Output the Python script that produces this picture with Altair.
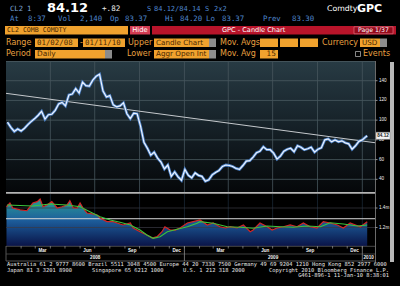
import altair as alt
import pandas as pd

# ---------------- data ----------------
# weekly closes of CL2, Fridays of 2008, Fridays of 2009, then early 2010
price_2008 = [97.9, 92.7, 88.5, 91.0, 89.0, 91.8, 95.5, 98.8, 101.6,
              105.0, 109.0, 101.0, 105.5, 106.0, 110.0, 116.5, 118.0,
              114.5, 125.5, 126.5, 132.0, 127.5, 138.5, 135.0, 134.5, 140.5,
              144.5, 146.5, 129.5, 123.5, 125.0, 115.5, 113.5, 114.5, 117.5,
              106.5, 101.5, 107.0, 106.5, 94.0, 77.5, 71.5, 64.5, 67.5,
              61.5, 57.5, 50.5, 54.5, 43.0, 47.5, 42.5, 39.0]
price_2009 = [50.0, 44.0, 41.5, 46.5, 44.0, 43.0, 38.0, 39.5, 44.5,
              47.0, 49.0, 53.0, 54.5, 54.0, 53.0, 51.0, 50.0,
              54.0, 58.5, 59.0, 62.5, 67.0, 68.5, 73.0, 70.0, 70.0,
              66.5, 60.5, 63.5, 68.5, 70.5, 71.5, 68.0, 74.0, 72.5,
              70.0, 71.0, 72.5, 67.5, 70.5, 72.0, 80.0, 81.0, 78.0,
              80.0, 78.0, 79.0, 77.0, 76.0, 70.5, 74.0, 78.5]
price_2010_dates = ["2010-01-01", "2010-01-08", "2010-01-11"]
price_2010 = [80.0, 83.0, 84.12]

trend_dates = ["2008-01-01", "2010-01-27"]
trend_vals = [127.2, 77.1]

oi_dates = ["2008-01-02", "2008-01-09", "2008-01-15", "2008-01-30", "2008-02-13", "2008-02-25",
            "2008-03-05", "2008-03-11", "2008-03-17", "2008-03-25", "2008-04-04", "2008-04-15",
            "2008-04-25", "2008-05-05", "2008-05-11", "2008-05-18", "2008-05-26", "2008-06-01",
            "2008-06-07", "2008-06-15", "2008-06-26", "2008-07-06", "2008-07-12", "2008-07-26",
            "2008-08-08", "2008-08-16", "2008-08-28", "2008-09-12", "2008-09-18", "2008-10-02",
            "2008-10-16", "2008-10-27", "2008-11-06", "2008-11-16", "2008-11-22", "2008-12-03",
            "2008-12-13", "2008-12-23", "2009-01-07", "2009-01-19", "2009-02-02", "2009-02-17",
            "2009-03-01", "2009-03-15", "2009-03-26", "2009-04-05", "2009-04-19", "2009-05-02",
            "2009-05-16", "2009-05-22", "2009-06-05", "2009-06-20", "2009-06-30", "2009-07-10",
            "2009-07-23", "2009-08-06", "2009-08-20", "2009-09-02", "2009-09-16", "2009-09-30",
            "2009-10-13", "2009-10-27", "2009-11-11", "2009-11-23", "2009-12-07", "2009-12-18",
            "2009-12-28", "2010-01-11"]
oi_vals = [1.413, 1.451, 1.400, 1.380, 1.372, 1.451,
           1.465, 1.492, 1.413, 1.431, 1.465, 1.400,
           1.413, 1.431, 1.475, 1.400, 1.400, 1.451,
           1.400, 1.349, 1.339, 1.328, 1.297, 1.260,
           1.260, 1.246, 1.226, 1.246, 1.195, 1.157,
           1.123, 1.092, 1.106, 1.157, 1.208, 1.174,
           1.174, 1.195, 1.246, 1.260, 1.277, 1.226,
           1.246, 1.208, 1.195, 1.208, 1.195, 1.226,
           1.157, 1.174, 1.246, 1.208, 1.174, 1.195,
           1.208, 1.226, 1.208, 1.246, 1.208, 1.195,
           1.260, 1.246, 1.226, 1.195, 1.246, 1.226,
           1.208, 1.260]

ma_dates = ["2008-01-03", "2008-02-25", "2008-03-31", "2008-05-05", "2008-06-01", "2008-06-21",
            "2008-07-12", "2008-08-02", "2008-08-22", "2008-09-12", "2008-10-02", "2008-10-16",
            "2008-10-29", "2008-11-12", "2008-11-27", "2008-12-17", "2009-01-07", "2009-01-27",
            "2009-02-02", "2009-03-01", "2009-03-30", "2009-04-25", "2009-05-22", "2009-06-20",
            "2009-07-17", "2009-08-12", "2009-09-10", "2009-10-07", "2009-10-27", "2009-11-23",
            "2009-12-22", "2010-01-11"]
ma_vals = [1.431, 1.421, 1.441, 1.431, 1.413, 1.362,
           1.311, 1.277, 1.253, 1.226, 1.174, 1.123,
           1.089, 1.106, 1.157, 1.182, 1.208, 1.243,
           1.260, 1.243, 1.208, 1.202, 1.192, 1.215,
           1.208, 1.202, 1.215, 1.208, 1.249, 1.236,
           1.215, 1.226]

price_ticks = [40, 60, 80, 100, 120, 140]
oi_ticks = [1.2, 1.4]
oi_tick_labels = ["1.2m", "1.4m"]
oi_ref_level = 1.29
last_price_label = "84.12"

quarter_dates = ["2008-04-01", "2008-07-01", "2008-10-01", "2009-01-01",
                 "2009-04-01", "2009-07-01", "2009-10-01", "2010-01-01"]
month_label_dates = ["2008-03-16", "2008-06-16", "2008-09-16", "2008-12-16",
                     "2009-03-16", "2009-06-16", "2009-09-16", "2009-12-16"]
month_labels = ["Mar", "Jun", "Sep", "Dec", "Mar", "Jun", "Sep", "Dec"]
year_label_dates = ["2008-07-02", "2009-07-02", "2010-01-14"]
year_labels = ["2008", "2009", "2010"]

# ---------------- tables ----------------
d08 = pd.date_range("2008-01-04", periods=len(price_2008), freq="7D").strftime("%Y-%m-%d").tolist()
d09 = pd.date_range("2009-01-02", periods=len(price_2009), freq="7D").strftime("%Y-%m-%d").tolist()
price_df = pd.DataFrame({"date": d08 + d09 + price_2010_dates,
                         "price": price_2008 + price_2009 + price_2010})
trend_df = pd.DataFrame({"date": trend_dates, "price": trend_vals})
oi_df = pd.DataFrame({"date": oi_dates, "oi": oi_vals})
ma_df = pd.DataFrame({"date": ma_dates, "ma": ma_vals})
month_starts = pd.date_range("2008-02-01", "2010-01-01", freq="MS").strftime("%Y-%m-%d").tolist()

MONO = "DejaVu Sans Mono"
SANS = "Liberation Sans"
DSANS = "DejaVu Sans"

X = alt.Scale(type="utc", domain=[alt.DateTime(year=2008, month=1, date=1, utc=True),
                                  alt.DateTime(year=2010, month=1, date=27, utc=True)],
              range=[6, 375], nice=False)
PY = alt.Scale(domain=[26.1, 160.0], range=[193, 61], nice=False, zero=False)
OY = alt.Scale(domain=[1.0103, 1.5436], range=[246, 194], nice=False, zero=False)

one = pd.DataFrame({"k": [0]})


def box(x1, y1, x2, y2, fill, stroke=None, sw=0.8):
    kw = dict(fill=fill)
    if stroke:
        kw.update(stroke=stroke, strokeWidth=sw)
    return alt.Chart(one).mark_rect(**kw).encode(
        x=alt.value(x1), x2=alt.value(x2), y=alt.value(y1), y2=alt.value(y2))


def hline(y, x1, x2, color, w=1.0):
    return alt.Chart(one).mark_rule(color=color, strokeWidth=w).encode(
        x=alt.value(x1), x2=alt.value(x2), y=alt.value(y))


def vline(x, y1, y2, color, w=1.0):
    return alt.Chart(one).mark_rule(color=color, strokeWidth=w).encode(
        x=alt.value(x), y=alt.value(y1), y2=alt.value(y2))


def txt(s, x, y, size, color, font=MONO, weight="normal", align="left"):
    return alt.Chart(one).mark_text(text=s, font=font, fontSize=size, fontWeight=weight,
                                    color=color, align=align, baseline="middle").encode(
        x=alt.value(x), y=alt.value(y))


layers = []

# ---------------- header ----------------
BLUE1 = "#7fa8d8"
BLUE2 = "#4f86cc"
ORANGE = "#f0a22e"
ORTXT = "#e8a040"
FTXT = "#4a2800"
GRAYBTN = "#8c8c8c"

layers += [
    txt("CL2", 10, 8.5, 7.2, BLUE1),
    txt("1", 27, 8.5, 7.2, BLUE1),
    txt("84.12", 47, 8.0, 13, "#ffffff", DSANS, "bold"),
    txt("+.82", 102, 9.0, 7.6, "#e8e8e8"),
    txt("S", 147, 9, 7.0, BLUE2),
    txt("84.12/84.14", 154, 9, 7.0, BLUE2),
    txt("S", 205, 9, 7.0, BLUE2),
    txt("2x2", 214, 9, 7.0, BLUE2),
    txt("Comdty", 327, 8.5, 7.8, "#ffffff", DSANS),
    txt("GPC", 357, 8.5, 11, "#ffffff", DSANS, "bold"),
]
for s, x in [("At", 10), ("8:37", 28), ("Vol", 58), ("2,140", 80), ("Op", 110), ("83.37", 125),
             ("Hi", 165), ("84.20", 180), ("Lo", 206), ("83.37", 222), ("Prev", 263), ("83.30", 292)]:
    layers.append(txt(s, x, 19.2, 7.4, BLUE2))

# row 3 bars
layers += [
    box(5, 26, 128, 34.5, ORANGE),
    txt("CL2 COMB COMDTY", 7, 30.4, 6.6, FTXT),
    box(130, 26, 150, 34.5, "#d23c52"),
    txt("Hide", 140, 30.4, 6.8, "#ffffff", DSANS, align="center"),
    box(152, 26, 396, 34.5, "#b8142a"),
    txt("GPC - Candle Chart", 222, 30.4, 6.6, "#ffffff", DSANS),
    box(354, 26.8, 393, 33.8, "#950a1c", "#e07080", 0.7),
    txt("Page 1/37", 373.5, 30.4, 6.2, "#ffffff", DSANS, align="center"),
]

# rows 4 and 5
R4, R5 = 42.7, 54.3
layers += [
    txt("Range", 6, R4, 8, ORTXT, DSANS),
    box(35, 38.5, 78, 47, ORANGE), txt("01/02/08", 37, R4, 7.4, FTXT),
    txt("-", 80, R4, 8, ORTXT, DSANS),
    box(83, 38.5, 125, 47, ORANGE), txt("01/11/10", 85, R4, 7.4, FTXT),
    txt("Upper", 128, R4, 8, ORTXT, DSANS),
    box(154, 38.5, 209, 47, ORANGE), txt("Candle Chart", 156, R4, 7.2, FTXT, DSANS),
    box(209, 38.5, 216, 47, GRAYBTN),
    txt("Mov. Avgs", 220, R4, 8, ORTXT, DSANS),
    box(260, 38.5, 278, 47, ORANGE), box(280, 38.5, 298, 47, ORANGE), box(300, 38.5, 318, 47, ORANGE),
    txt("Currency", 322, R4, 8, ORTXT, DSANS),
    box(360, 38.5, 380, 47, ORANGE), txt("USD", 362, R4, 7.2, FTXT, DSANS),
    box(380, 38.5, 387, 47, GRAYBTN),

    txt("Period", 6, R5, 8, ORTXT, DSANS),
    box(35, 50, 105, 58.5, ORANGE), txt("Daily", 37, R5, 7.4, FTXT, DSANS),
    box(105, 50, 112, 58.5, GRAYBTN),
    txt("Lower", 127, R5, 8, ORTXT, DSANS),
    box(154, 50, 209, 58.5, ORANGE), txt("Aggr Open Int", 156, R5, 7.2, FTXT, DSANS),
    box(209, 50, 216, 58.5, GRAYBTN),
    txt("Mov. Avg", 220, R5, 8, ORTXT, DSANS),
    box(260, 50, 278, 58.5, ORANGE), txt("15", 276, R5, 7.4, FTXT, DSANS, align="right"),
    box(355.5, 51.5, 360.5, 56.5, "#000000", "#c0c0c0", 0.7),
    txt("Events", 363, R5, 8, ORTXT, DSANS),
]

# ---------------- upper panel ----------------
grad_up = alt.Gradient(gradient="linear",
                       stops=[alt.GradientStop(color="#283b44", offset=0),
                              alt.GradientStop(color="#17232a", offset=0.45),
                              alt.GradientStop(color="#050709", offset=1)],
                       x1=0, x2=0, y1=0, y2=1)
layers.append(alt.Chart(one).mark_rect(fill=grad_up).encode(
    x=alt.value(6), x2=alt.value(375), y=alt.value(61), y2=alt.value(193)))
layers.append(hline(61.5, 6, 375, "#43535a", 1))

ticks_df = pd.DataFrame({"v": price_ticks, "lab": [str(t) for t in price_ticks]})
layers.append(alt.Chart(ticks_df).mark_rule(color="#4a5a61", strokeWidth=0.8).encode(
    y=alt.Y("v:Q", scale=PY, axis=None), x=alt.value(6), x2=alt.value(375)))
q_df = pd.DataFrame({"d": quarter_dates})
layers.append(alt.Chart(q_df).mark_rule(color="#46565d", strokeWidth=0.8).encode(
    x=alt.X("d:T", scale=X, axis=None), y=alt.value(62), y2=alt.value(192)))
layers.append(alt.Chart(q_df).mark_rule(color="#1c2c3c", strokeWidth=0.7).encode(
    x=alt.X("d:T", scale=X, axis=None), y=alt.value(194), y2=alt.value(246)))

# trend line
layers.append(alt.Chart(trend_df).mark_line(color="#c4c8cc", strokeWidth=1).encode(
    x=alt.X("date:T", scale=X, axis=None), y=alt.Y("price:Q", scale=PY, axis=None)))

# price series
pbase = alt.Chart(price_df).encode(x=alt.X("date:T", scale=X, axis=None),
                                   y=alt.Y("price:Q", scale=PY, axis=None))
layers.append(pbase.mark_line(color="#4a7fc4", strokeWidth=2.8, strokeJoin="miter"))
layers.append(pbase.mark_line(color="#eef4ff", strokeWidth=1.2))

# ---------------- lower panel ----------------
grad_lo = alt.Gradient(gradient="linear",
                       stops=[alt.GradientStop(color="#2a9c94", offset=0),
                              alt.GradientStop(color="#1d5e9c", offset=0.45),
                              alt.GradientStop(color="#0a1448", offset=1)],
                       x1=0, x2=0, y1=0, y2=1)
oi_df["base"] = OY.domain[0]
layers.append(alt.Chart(oi_df).mark_area(fill=grad_lo, opacity=1).encode(
    x=alt.X("date:T", scale=X, axis=None),
    y=alt.Y("oi:Q", scale=OY, axis=None), y2="base:Q"))
oit_df = pd.DataFrame({"v": oi_ticks, "lab": oi_tick_labels})
layers.append(alt.Chart(oit_df).mark_rule(color="#3a3a44", strokeWidth=0.7).encode(
    y=alt.Y("v:Q", scale=OY, axis=None), x=alt.value(6), x2=alt.value(375)))
layers.append(alt.Chart(pd.DataFrame({"v": [oi_ref_level]})).mark_rule(
    color="#d8d8d8", strokeWidth=1).encode(
    y=alt.Y("v:Q", scale=OY, axis=None), x=alt.value(6), x2=alt.value(375)))
layers.append(alt.Chart(oi_df).mark_line(color="#d42626", strokeWidth=1.2).encode(
    x=alt.X("date:T", scale=X, axis=None), y=alt.Y("oi:Q", scale=OY, axis=None)))
layers.append(alt.Chart(ma_df).mark_line(color="#3cc43c", strokeWidth=1.1).encode(
    x=alt.X("date:T", scale=X, axis=None), y=alt.Y("ma:Q", scale=OY, axis=None)))

# separators and frame
layers += [
    hline(192.8, 6, 376, "#b4b4b4", 1.8),
    hline(246.3, 6, 375, "#5a5a5a", 0.8),
    vline(375.5, 61, 262, "#6a6a6a", 1),
    vline(6, 246, 261, "#6a6a6a", 0.8),
    hline(254, 6, 375, "#5a5a5a", 0.7),
    hline(261, 6, 375, "#6a6a6a", 0.8),
    box(390, 62, 394, 262, "#b8b8b8"),
]
ms_df = pd.DataFrame({"d": month_starts})
layers.append(alt.Chart(ms_df).mark_rule(color="#9a9a9a", strokeWidth=0.7).encode(
    x=alt.X("d:T", scale=X, axis=None), y=alt.value(246), y2=alt.value(248.5)))
ys_df = pd.DataFrame({"d": ["2009-01-01", "2010-01-01"]})
layers.append(alt.Chart(ys_df).mark_rule(color="#8a8a8a", strokeWidth=0.8).encode(
    x=alt.X("d:T", scale=X, axis=None), y=alt.value(246), y2=alt.value(261)))

# x labels
ml_df = pd.DataFrame({"d": month_label_dates, "m": month_labels})
layers.append(alt.Chart(ml_df).mark_text(font=SANS, fontSize=4.6, fontWeight="bold",
                                         color="#f0f0f0", baseline="middle").encode(
    x=alt.X("d:T", scale=X, axis=None), y=alt.value(250.6), text="m:N"))
yl_df = pd.DataFrame({"d": year_label_dates, "y": year_labels})
layers.append(alt.Chart(yl_df).mark_text(font=SANS, fontSize=4.6, fontWeight="bold",
                                         color="#f0f0f0", baseline="middle").encode(
    x=alt.X("d:T", scale=X, axis=None), y=alt.value(257.6), text="y:N"))

# right axis labels
layers.append(alt.Chart(ticks_df).mark_rule(color="#c8c8c8", strokeWidth=0.7).encode(
    y=alt.Y("v:Q", scale=PY, axis=None), x=alt.value(375.5), x2=alt.value(377.5)))
layers.append(alt.Chart(ticks_df).mark_text(font=SANS, fontSize=4.6, color="#f0f0f0",
                                            align="left", baseline="middle").encode(
    y=alt.Y("v:Q", scale=PY, axis=None), x=alt.value(379), text="lab:N"))
layers.append(alt.Chart(oit_df).mark_rule(color="#c8c8c8", strokeWidth=0.7).encode(
    y=alt.Y("v:Q", scale=OY, axis=None), x=alt.value(375.5), x2=alt.value(377.5)))
layers.append(alt.Chart(oit_df).mark_text(font=SANS, fontSize=4.6, color="#f0f0f0",
                                          align="left", baseline="middle").encode(
    y=alt.Y("v:Q", scale=OY, axis=None), x=alt.value(379), text="lab:N"))

lp_df = pd.DataFrame({"v": [float(last_price_label)], "lab": [last_price_label]})
lp_df["hi"] = lp_df["v"] + 3.6
lp_df["lo"] = lp_df["v"] - 3.6
layers.append(alt.Chart(lp_df).mark_rect(fill="#f4f4f4", stroke="#888888", strokeWidth=0.5).encode(
    x=alt.value(376), x2=alt.value(390), y=alt.Y("hi:Q", scale=PY, axis=None), y2="lo:Q"))
layers.append(alt.Chart(lp_df).mark_text(font=SANS, fontSize=4.6, fontWeight="bold",
                                         color="#202020", align="center", baseline="middle").encode(
    y=alt.Y("v:Q", scale=PY, axis=None), x=alt.value(383), text="lab:N"))

# ---------------- footer ----------------
FT = "#e6e6e6"
layers += [
    txt("Australia 61 2 9777 8600 Brazil 5511 3048 4500 Europe 44 20 7330 7500 "
        "Germany 49 69 9204 1210 Hong Kong 852 2977 6000", 7, 264.4, 5.4, FT),
    txt("Japan 81 3 3201 8900", 7, 269.7, 5.4, FT),
    txt("Singapore 65 6212 1000", 92, 269.7, 5.4, FT),
    txt("U.S. 1 212 318 2000", 183, 269.7, 5.4, FT),
    txt("Copyright 2010 Bloomberg Finance L.P.", 389, 269.7, 5.4, FT, align="right"),
    txt("G461-896-1 11-Jan-10  8:38:01", 389, 274.8, 5.4, FT, align="right"),
]

chart = alt.layer(*layers).resolve_scale(y="independent").properties(
    width=400, height=286, padding=0,
    autosize=alt.AutoSizeParams(type="none"),
    background="#000000",
).configure_view(strokeWidth=0)

chart.save("out.html", embed_options={"renderer": "svg", "actions": False})
